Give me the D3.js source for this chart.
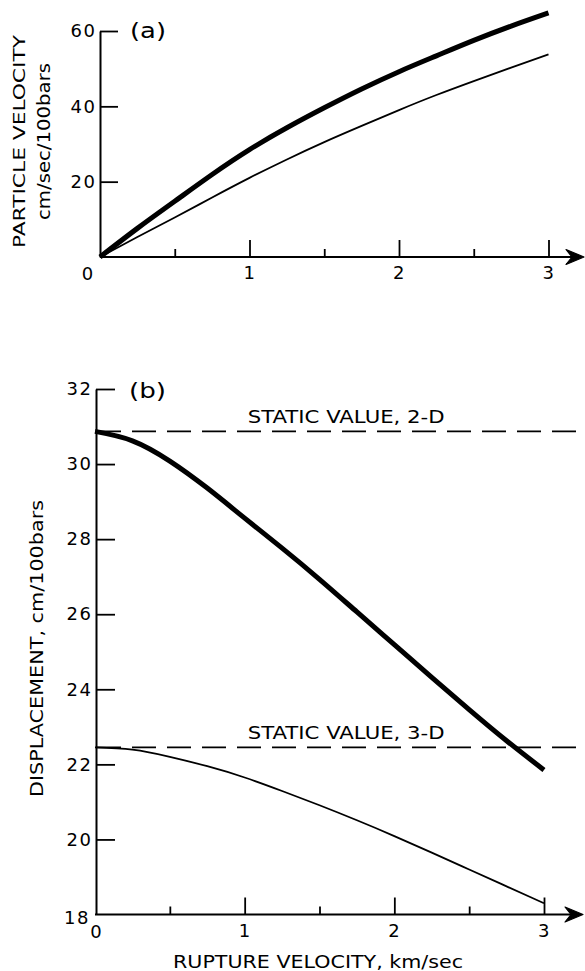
<!DOCTYPE html>
<html>
<head>
<meta charset="utf-8">
<script src="https://cdn.jsdelivr.net/npm/d3@7"></script>
<style>
  html, body { margin: 0; padding: 0; background: #fff; }
  svg { display: block; }
  text { font-family: "DejaVu Sans", sans-serif; fill: #000; }
</style>
</head>
<body>
<svg id="chart" width="585" height="971"></svg>
<script>
// Rupture velocity samples (km/sec) shared by both panels
const rupture = [0, 0.25, 0.5, 0.75, 1, 1.25, 1.5, 1.75, 2, 2.25, 2.5, 2.75, 3];

// (a) particle velocity, cm/sec/100bars
const velocityHeavy = [0, 7.6, 14.8, 21.9, 28.5, 34.3, 39.6, 44.6, 49.2, 53.4, 57.5, 61.3, 64.8];
const velocityLight = [0, 5.3, 10.5, 15.8, 21.0, 25.9, 30.5, 34.8, 39.0, 43.0, 46.7, 50.3, 53.8];

// (b) displacement, cm/100bars
const displacementHeavy = [30.87, 30.62, 30.08, 29.36, 28.56, 27.76, 26.93, 26.06, 25.19, 24.32, 23.46, 22.63, 21.85];
const displacementLight = [22.45, 22.39, 22.20, 21.95, 21.65, 21.29, 20.91, 20.51, 20.09, 19.65, 19.20, 18.75, 18.30];

// Static reference levels
const staticValues = [30.87, 22.45];
const staticLabels = ["STATIC VALUE, 2-D", "STATIC VALUE, 3-D"];

// Tick values
const velocityTicks = [20, 40, 60];
const displacementTicks = [20, 22, 24, 26, 28, 30, 32];
const ruptureMajor = [1, 2, 3];
const ruptureMinor = [0.5, 1.5, 2.5];

const svg = d3.select("#chart");
const INK = "#000";

const xA = d3.scaleLinear([0, 3], [100, 548.5]);
const yA = d3.scaleLinear([0, 60], [257, 31]);
const xB = d3.scaleLinear([0, 3], [95, 544]);
const yB = d3.scaleLinear([18, 32], [914.5, 389]);

function styleAxis(g) {
  g.selectAll("path.domain").attr("stroke", INK).attr("stroke-width", 2);
  g.selectAll(".tick line").attr("stroke", INK).attr("stroke-width", 1.8);
  g.selectAll(".tick text")
    .attr("font-family", '"DejaVu Sans", sans-serif')
    .attr("font-size", 18)
    .attr("letter-spacing", 1.5)
    .attr("fill", INK);
}

function arrowAxis(g, x0, tip, y) {
  g.append("line")
    .attr("x1", x0).attr("x2", tip - 6)
    .attr("y1", y).attr("y2", y)
    .attr("stroke", INK).attr("stroke-width", 2);
  g.append("path")
    .attr("d", `M${tip},${y} L${tip - 18},${y - 7.5} L${tip - 12},${y} L${tip - 18},${y + 7.5} Z`)
    .attr("fill", INK).attr("stroke", INK).attr("stroke-width", 1.2)
    .attr("stroke-linejoin", "round");
}

function xAxes(g, x, y0) {
  g.append("g")
    .attr("transform", `translate(0,${y0})`)
    .call(d3.axisBottom(x).tickValues(ruptureMajor).tickSizeInner(-17).tickSizeOuter(0)
      .tickPadding(9.5).tickFormat(d3.format("d")))
    .call(styleAxis)
    .call(a => a.select(".domain").remove());
  g.append("g")
    .attr("transform", `translate(0,${y0})`)
    .call(d3.axisBottom(x).tickValues(ruptureMinor).tickSizeInner(-8).tickSizeOuter(0).tickFormat(""))
    .call(styleAxis)
    .call(a => a.select(".domain").remove());
}

// Wide lettering: stretch glyphs to the measured run length
function lettering(sel, size, length) {
  return sel.attr("font-size", size)
    .attr("textLength", length)
    .attr("lengthAdjust", "spacingAndGlyphs");
}

const curve = d3.curveNatural;

// ---------- Panel (a) ----------
const gA = svg.append("g");

gA.append("g")
  .attr("transform", `translate(${xA(0)},0)`)
  .call(d3.axisLeft(yA).tickValues(velocityTicks).tickSizeInner(-18).tickSizeOuter(0)
    .tickPadding(3.5).tickFormat(d3.format("d")))
  .call(styleAxis);

xAxes(gA, xA, yA(0));
arrowAxis(gA, xA(0), 584, yA(0));

gA.append("text")
  .attr("x", xA(0) - 12.5).attr("y", yA(0) + 22.5)
  .attr("text-anchor", "middle").attr("font-size", 18)
  .text("0");

const lineA = d3.line().x((d, i) => xA(rupture[i])).y(d => yA(d)).curve(curve);
gA.append("path").datum(velocityLight)
  .attr("d", lineA).attr("fill", "none").attr("stroke", INK).attr("stroke-width", 1.8);
gA.append("path").datum(velocityHeavy)
  .attr("d", lineA).attr("fill", "none").attr("stroke", INK).attr("stroke-width", 5);

gA.append("text")
  .attr("x", 130).attr("y", 38)
  .call(lettering, 22, 36)
  .text("(a)");

gA.append("text")
  .attr("transform", "translate(25,141.5) rotate(-90)")
  .attr("text-anchor", "middle")
  .call(lettering, 16.5, 213)
  .text("PARTICLE VELOCITY");
gA.append("text")
  .attr("transform", "translate(50,141.5) rotate(-90)")
  .attr("text-anchor", "middle")
  .call(lettering, 17, 157)
  .text("cm/sec/100bars");

// ---------- Panel (b) ----------
const gB = svg.append("g");

gB.append("g")
  .attr("transform", `translate(${xB(0) + 1},0)`)
  .call(d3.axisLeft(yB).tickValues(displacementTicks).tickSizeInner(-19).tickSizeOuter(0)
    .tickPadding(3.5).tickFormat(d3.format("d")))
  .call(styleAxis);

xAxes(gB, xB, yB(18));
arrowAxis(gB, xB(0), 583, yB(18));

gB.append("text")
  .attr("x", xB(0) - 5).attr("y", yB(18) + 9)
  .attr("text-anchor", "end").attr("font-size", 18).attr("letter-spacing", 1.5)
  .text("18");
gB.append("text")
  .attr("x", xB(0) + 1).attr("y", yB(18) + 23)
  .attr("text-anchor", "middle").attr("font-size", 18)
  .text("0");

// static levels
staticValues.forEach((v, i) => {
  gB.append("line")
    .attr("x1", xB(0) + 2).attr("x2", 585)
    .attr("y1", yB(v)).attr("y2", yB(v))
    .attr("stroke", INK).attr("stroke-width", 1.8)
    .attr("stroke-dasharray", "24,11");
  gB.append("text")
    .attr("x", xB(1.02)).attr("y", yB(v) - 8)
    .call(lettering, 18, 197)
    .text(staticLabels[i]);
});

const lineB = d3.line().x((d, i) => xB(rupture[i])).y(d => yB(d)).curve(curve);
gB.append("path").datum(displacementLight)
  .attr("d", lineB).attr("fill", "none").attr("stroke", INK).attr("stroke-width", 1.8);
gB.append("path").datum(displacementHeavy)
  .attr("d", lineB).attr("fill", "none").attr("stroke", INK).attr("stroke-width", 5);

gB.append("text")
  .attr("x", 129).attr("y", 397.5)
  .call(lettering, 22, 37)
  .text("(b)");

gB.append("text")
  .attr("transform", "translate(43,648.5) rotate(-90)")
  .attr("text-anchor", "middle")
  .call(lettering, 18.5, 297)
  .text("DISPLACEMENT, cm/100bars");

gB.append("text")
  .attr("x", 318).attr("y", 968)
  .attr("text-anchor", "middle")
  .call(lettering, 18, 290)
  .text("RUPTURE VELOCITY, km/sec");
</script>
</body>
</html>
